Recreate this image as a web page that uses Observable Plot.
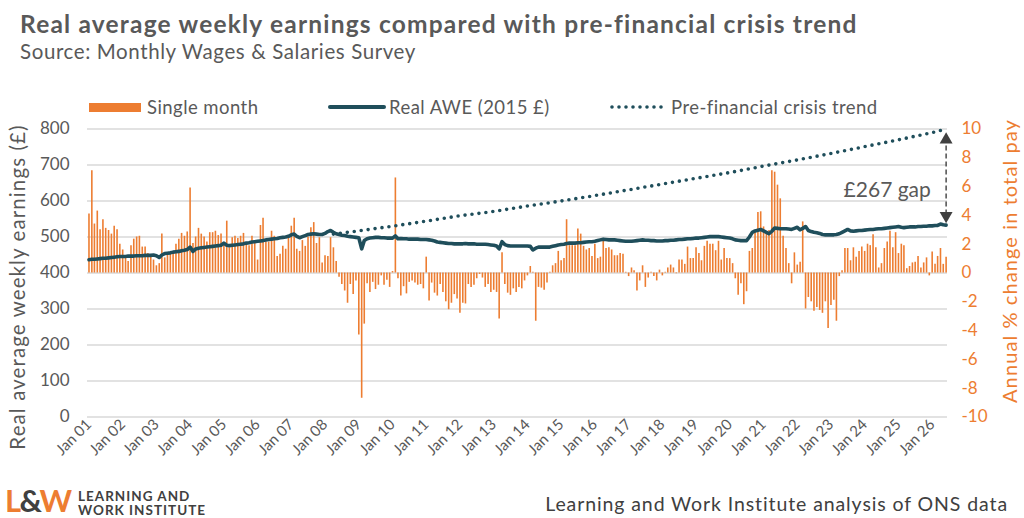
<!DOCTYPE html>
<html>
<head>
<meta charset="utf-8">
<script src="https://cdn.jsdelivr.net/npm/d3@7"></script>
<script src="https://cdn.jsdelivr.net/npm/@observablehq/plot@0.6"></script>
<style>
  body { margin: 0; background: #fff; font-family: Lato, "Open Sans", sans-serif; color: #595959; }
  #wrap { position: relative; width: 1024px; height: 518px; overflow: hidden; }
  #title { position: absolute; left: 20px; top: 9px; font-size: 24.5px; font-weight: 700; letter-spacing: 1.2px; white-space: nowrap; }
  #sub { position: absolute; left: 20px; top: 39px; font-size: 20.5px; letter-spacing: 0.6px; white-space: nowrap; }
  .leg { position: absolute; top: 96px; font-size: 18.5px; letter-spacing: 0.45px; white-space: nowrap; line-height: 22px; }
  .sw { position: absolute; }
  #chart { position: absolute; left: 0; top: 118px; }
  #chart .axis-title { letter-spacing: 1.1px; }
  #logo { position: absolute; left: 5px; top: 484px; }
  #logo .big { position: absolute; left: 0; top: 0; font-size: 31px; font-weight: 700; letter-spacing: -1.5px; line-height: 32px; }
  #logo .small { position: absolute; left: 73px; font-size: 13.5px; font-weight: 700; color: #404040; letter-spacing: 1px; white-space: nowrap; }
  #foot { position: absolute; right: 16px; top: 492px; font-size: 19.5px; letter-spacing: 0.9px; color: #404040; white-space: nowrap; }
</style>
</head>
<body>
<div id="wrap">
  <div id="title">Real average weekly earnings compared with pre-financial crisis trend</div>
  <div id="sub">Source: Monthly Wages &amp; Salaries Survey</div>

  <div class="sw" style="left:89px;top:103px;width:52px;height:9px;background:#ED7D31"></div>
  <div class="leg" style="left:147px">Single month</div>
  <svg class="sw" style="left:328px;top:100px" width="58" height="14"><line x1="2" y1="7" x2="56" y2="7" stroke="#1F4E5B" stroke-width="4" stroke-linecap="round"/></svg>
  <div class="leg" style="left:389px">Real AWE (2015 £)</div>
  <svg class="sw" style="left:608px;top:100px" width="60" height="14"><line x1="4" y1="7" x2="58" y2="7" stroke="#1F4E5B" stroke-width="3.6" stroke-linecap="round" stroke-dasharray="0 7"/></svg>
  <div class="leg" style="left:671px">Pre-financial crisis trend</div>

  <div id="chart"></div>

  <div id="logo">
    <div class="big"><span style="color:#ED7D31">L</span><span style="color:#404040">&amp;</span><span style="color:#ED7D31">W</span></div>
    <div class="small" style="top:4px">LEARNING AND</div>
    <div class="small" style="top:18px">WORK INSTITUTE</div>
  </div>
  <div id="foot">Learning and Work Institute analysis of ONS data</div>
</div>

<script>
// monthly series, Jan 2001 onwards
const singleMonth = [
  4.1, 7.1, 3.4, 4.3, 3.0, 3.7, 3.1, 2.95, 2.7, 3.25, 3.0, 2.0,
  1.6, 1.1, 0.8, 1.9, 2.35, 2.5, 2.55, 1.8, 1.8, 1.35, 1.2, 0.9,
  0.5, 0.65, 2.7, 1.05, 1.3, 1.35, 1.4, 2.0, 2.35, 2.75, 2.55, 2.85,
  5.9, 2.05, 2.5, 3.1, 2.7, 2.5, 2.15, 2.8, 2.8, 2.9, 2.6, 2.7,
  1.95, 3.6, 1.75, 2.45, 2.55, 2.4, 2.55, 2.75, 2.05, 1.9, 2.55, 2.15,
  0.9, 3.3, 3.8, 2.15, 2.15, 2.9, 2.55, 1.15, 1.3, 1.85, 1.65, 2.4,
  3.25, 3.8, 1.65, 1.5, 2.25, 1.85, 2.5, 3.15, 3.5, 2.05, 2.45, 0.7,
  1.2, 1.15, 2.45, 1.75, 0.8, -0.3, -0.8, -1.25, -2.1, -0.8, -1.5, -0.55,
  -4.3, -8.7, -3.55, -0.75, -1.35, -0.65, -1.15, -0.85, -0.2, -0.85, -0.5, -1.0,
  0.1, 6.6, -0.4, -1.6, -0.95, -1.45, -0.65, -0.55, -0.7, -0.85, -0.8, -1.1,
  1.1, -1.95, -0.7, -1.4, -1.6, -0.8, -1.35, -2.0, -2.55, -2.1, -1.5, -1.8,
  -2.8, -2.1, -2.15, -0.8, -1.0, -0.85, -0.4, -0.1, -0.35, -1.0, -0.8, -1.35,
  -1.2, -1.35, -3.2, 1.4, -0.8, -1.4, -1.55, -1.1, -1.35, -1.0, -1.1, -0.55,
  -0.2, 0.45, 0.05, -3.35, -1.0, -1.05, -1.2, -0.7, 0.05, 0.5, 0.65, 1.5,
  0.85, 1.0, 3.7, 1.9, 1.9, 1.9, 3.05, 2.7, 1.85, 1.6, 1.7, 1.15,
  2.0, 1.0, 1.1, 2.2, 1.7, 1.75, 1.6, 1.2, 1.2, 1.35, 1.3, 0.05,
  -0.25, 0.35, 0.15, -1.25, -0.55, 0.5, -1.0, -0.35, 0.05, -0.25, -0.55, 0.2,
  -0.2, 0.05, 0.35, 0.55, 0.35, -0.05, 0.9, 0.9, 0.6, 1.8, 1.0, 1.0,
  1.75, 1.35, 0.85, 1.85, 2.2, 2.0, 2.0, 1.55, 2.2, 0.9, 1.7, 1.0,
  1.0, 0.65, -0.4, -1.55, -0.75, -2.2, -1.3, 1.5, 1.7, 2.95, 4.2, 4.25,
  3.2, 2.85, 2.95, 7.1, 7.0, 6.1, 5.15, 2.55, 1.7, 0.65, -0.75, 1.4,
  0.55, 0.75, 3.55, -2.5, -1.7, -2.0, -2.65, -2.4, -2.6, -2.8, -2.0, -3.85,
  -2.25, -1.9, -3.35, -0.25, 0.15, 1.7, 1.7, 0.85, 1.75, 1.1, 1.5, 1.8,
  1.5, 2.0, 1.9, 2.65, 1.75, 0.35, 0.65, 1.7, 2.15, 2.9, 1.75, 2.8,
  1.35, 2.0, 1.9, 0.3, 0.45, 0.7, 0.75, 1.15, 0.35, 0.7, 1.05, -0.2,
  1.45, 0.6, 1.15, 1.7, 0.6, 1.1
];

const realAwe = [
  437, 438, 438, 439, 440, 441, 441, 442, 443, 444, 445, 446,
  446, 446, 447, 447, 447, 448, 448, 448, 449, 449, 449, 450,
  448, 443, 450, 454, 455, 456, 458, 459, 460, 462, 463, 465,
  472, 460, 467, 469, 470, 471, 472, 473, 474, 475, 476, 477,
  483, 477, 476, 477, 478, 479, 480, 481, 483, 484, 486, 487,
  488, 489, 490, 492, 493, 494, 495, 496, 498, 499, 500, 502,
  506, 508, 502, 498, 501, 504, 507, 508, 509, 508, 507, 507,
  510, 515, 518, 513, 509, 507, 505, 504, 502, 501, 500, 499,
  498, 467, 490, 495, 497, 498, 499, 499, 498, 498, 497, 497,
  497, 503, 495, 496, 495, 495, 494, 494, 494, 494, 493, 493,
  493, 492, 491, 489, 486, 485, 484, 483, 482, 482, 481, 481,
  481, 481, 482, 481, 481, 481, 480, 480, 480, 480, 479, 478,
  477, 475, 467, 487, 479, 476, 475, 475, 475, 475, 475, 475,
  475, 474, 464, 469, 472, 472, 472, 472, 472, 474, 476, 478,
  479, 480, 482, 483, 483, 483, 484, 484, 485, 486, 487, 487,
  488, 490, 492, 494, 493, 492, 492, 492, 491, 490, 489, 488,
  488, 488, 489, 490, 491, 492, 491, 491, 490, 490, 489, 489,
  489, 490, 490, 491, 491, 492, 493, 493, 494, 495, 495, 496,
  497, 497, 498, 499, 500, 501, 501, 501, 501, 500, 499, 498,
  497, 495, 492, 491, 490, 490, 490, 500, 513, 517, 519, 521,
  517, 513, 509, 516, 525, 524, 523, 523, 523, 522, 521, 524,
  527, 520, 524, 529, 518, 515, 513, 512, 510, 507, 506, 506,
  506, 506, 507, 509, 513, 517, 521, 517, 516, 517, 518, 518,
  519, 520, 521, 521, 522, 523, 523, 524, 525, 526, 527, 528,
  529, 527, 526, 527, 528, 528, 528, 529, 529, 530, 530, 531,
  531, 532, 532, 536, 534, 533
];

// pre-crisis trend, read at a few months (index from Jan 2001)
const trendMonths = [87, 96, 108, 120, 132, 144, 156, 168, 180, 192, 204, 216, 228, 240, 252, 264, 276, 288, 300, 305];
const trendValues = [508, 517, 530, 544, 559, 571, 586, 600, 615, 631, 647, 663, 679, 697, 714, 732, 751, 770, 790, 800];

const gapLabel = "£267 gap";
const leftTicks = d3.range(0, 801, 100);
const rightTicks = d3.range(-10, 11, 2);

const orange = "#ED7D31";
const teal = "#1F4E5B";
const grey = "#595959";

const month = i => new Date(Date.UTC(2001, i, 1));
// right axis sits on the left one: 0% on £400, each 1% is £40
const toPounds = p => 400 + 40 * p;

const bars = singleMonth.map((v, i) => ({date: month(i), pct: v}));
const awe = realAwe.map((v, i) => ({date: month(i), value: v}));
const trend = trendMonths.map((m, k) => ({date: month(m), value: trendValues[k]}));
const yearTicks = d3.range(0, singleMonth.length, 12).map(month);
const last = awe[awe.length - 1];
const trendEnd = trend[trend.length - 1];

const chart = Plot.plot({
  width: 1024,
  height: 360,
  marginTop: 10.5,
  marginBottom: 61.5,
  marginLeft: 87,
  marginRight: 77,
  style: {fontFamily: "Lato, 'Open Sans', sans-serif", color: grey, background: "transparent", overflow: "visible"},
  x: {type: "utc", domain: [new Date(Date.UTC(2000, 11, 16)), new Date(Date.UTC(2026, 5, 16))]},
  y: {domain: [0, 800]},
  marks: [
    Plot.gridY(leftTicks, {stroke: "#d9d9d9", strokeOpacity: 1, strokeWidth: 1.5}),
    Plot.ruleX(bars, {x: "date", y1: 400, y2: d => toPounds(d.pct), stroke: orange, strokeWidth: 1.6}),
    Plot.line(trend, {x: "date", y: "value", stroke: teal, strokeWidth: 3.6, strokeLinecap: "round", strokeDasharray: "0 7"}),
    Plot.line(awe, {x: "date", y: "value", stroke: teal, strokeWidth: 3.6}),
    Plot.ruleX([last], {x: "date", y1: last.value + 28, y2: trendEnd.value - 32, stroke: "#404040", strokeWidth: 1.4, strokeDasharray: "5 3"}),
    Plot.dot([{date: last.date, value: trendEnd.value - 30, rot: 0}, {date: last.date, value: last.value + 26, rot: 180}],
      {x: "date", y: "value", symbol: "triangle", r: 4.8, fill: "#404040", rotate: "rot"}),
    Plot.text([{date: month(284), value: 629}], {x: "date", y: "value", text: () => gapLabel, fontSize: 21, fill: grey}),
    Plot.axisY(leftTicks, {anchor: "left", tickSize: 0, tickPadding: 18, fontSize: 17, color: grey, label: null}),
    Plot.axisY(rightTicks.map(toPounds), {anchor: "right", tickSize: 0, tickPadding: 14, fontSize: 17, color: orange, textAnchor: "start",
      tickFormat: d => String((d - 400) / 40), label: null}),
    Plot.axisX(yearTicks, {anchor: "bottom", tickSize: 0, tickPadding: 5, tickRotate: -45, fontSize: 15, color: grey,
      tickFormat: d3.utcFormat("Jan %y"), label: null}),
    Plot.text(["Real average weekly earnings (£)"], {text: d => d, frameAnchor: "left", textAnchor: "middle", rotate: -90, dx: -69, dy: 14,
      fontSize: 20.5, fill: grey, className: "axis-title"}),
    Plot.text(["Annual % change in total pay"], {text: d => d, frameAnchor: "right", textAnchor: "middle", rotate: -90, dx: 63, dy: -12,
      fontSize: 20, fill: orange, className: "axis-title"})
  ]
});

document.getElementById("chart").append(chart);
</script>
</body>
</html>
